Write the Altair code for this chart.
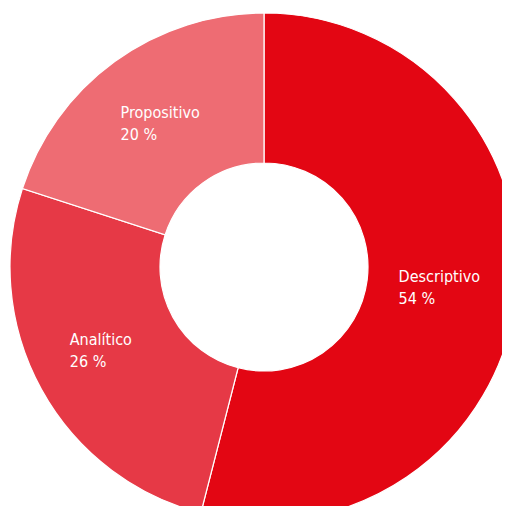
import altair as alt
import pandas as pd

categories = ["Descriptivo", "Analítico", "Propositivo"]
values = [54, 26, 20]
colors = ["#E30613", "#E63946", "#EE6C73"]

df = pd.DataFrame({
    "categoria": categories,
    "valor": values,
    "orden": list(range(len(categories))),
})
df["etiqueta"] = df["categoria"] + "\n" + df["valor"].astype(str) + " %"

cx, cy = 256, 259

base = alt.Chart(df).encode(
    theta=alt.Theta("valor:Q", stack=True),
    order=alt.Order("orden:Q"),
    x=alt.value(cx),
    y=alt.value(cy),
)

arcs = base.mark_arc(radius=254, radius2=104, stroke="white", strokeWidth=1.2).encode(
    color=alt.Color("categoria:N", scale=alt.Scale(domain=categories, range=colors), legend=None)
)

labels = base.mark_text(
    radius=176, align="left", baseline="middle", dx=-40, dy=-12, lineBreak="\n",
    font="DejaVu Sans Condensed", fontSize=16, lineHeight=22, color="white"
).encode(text="etiqueta:N")

chart = (arcs + labels).properties(
    width=494, height=498, padding=0,
    autosize=alt.AutoSizeParams(type="none"),
).configure_view(stroke=None)

chart.save("out.html", embed_options={"renderer": "svg", "actions": False})
